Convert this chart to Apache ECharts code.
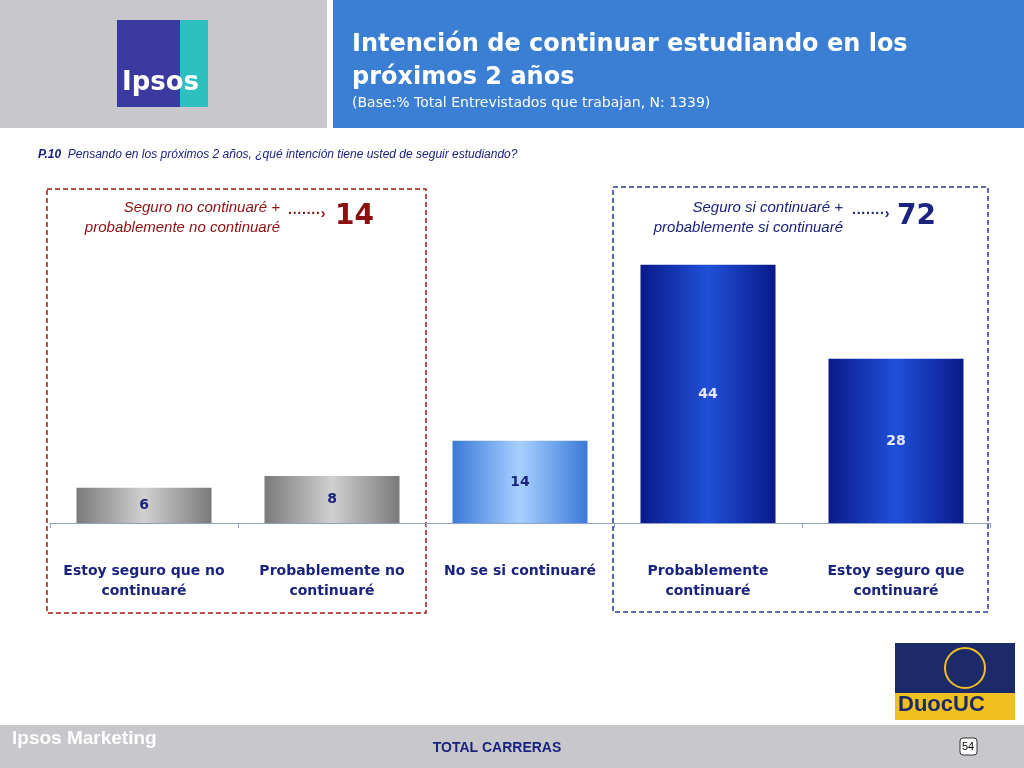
<!DOCTYPE html>
<html><head><meta charset="utf-8">
<script src="https://cdn.jsdelivr.net/npm/echarts@6/dist/echarts.min.js"></script>
<style>html,body{margin:0;padding:0;background:#fff}#c{width:1024px;height:768px}</style>
</head><body><div id="c"></div>
<script>
const categories = ['Estoy seguro que no\ncontinuaré','Probablemente no\ncontinuaré','No se si continuaré','Probablemente\ncontinuaré','Estoy seguro que\ncontinuaré'];
const values = [6, 8, 14, 44, 28];
const groupTotals = [14, 72];
const groupLabels = ['Seguro no continuaré +\nprobablemente no continuaré','Seguro si continuaré +\nprobablemente si continuaré'];

function grad(a,b){return {type:'linear',x:0,y:0,x2:1,y2:0,colorStops:[{offset:0,color:a},{offset:0.5,color:b},{offset:1,color:a}]};}
const colors=[grad('#7a7a7a','#d0d0d0'),grad('#7a7a7a','#d0d0d0'),grad('#3a7ad8','#a8d0ff'),grad('#0a1a8a','#2050d8'),grad('#0a1a8a','#2050d8')];
const labelColors=['#1a237e','#1a237e','#1a237e','#e8e8f4','#e8e8f4'];

const chart = echarts.init(document.getElementById('c'));
const txt='#1a237e';
chart.setOption({
  animation:false,
  grid:{left:50,right:34,top:171,bottom:245},
  xAxis:{type:'category',data:categories,
    axisLine:{lineStyle:{color:'#8ea0c8',width:1}},
    axisTick:{show:true,length:5,lineStyle:{color:'#8ea0c8'}},
    axisLabel:{interval:0,color:txt,fontWeight:'bold',fontSize:14,fontFamily:'Verdana, DejaVu Sans',margin:38,lineHeight:20}},
  yAxis:{type:'value',min:0,max:60,show:false},
  series:[{type:'bar',barWidth:135,
    data:values.map((v,i)=>({value:v,itemStyle:{color:colors[i]},label:{color:labelColors[i]}})),
    label:{show:true,position:'inside',fontWeight:'bold',fontSize:14,fontFamily:'Verdana, DejaVu Sans'}}],
  graphic:[
    {type:'rect',shape:{x:0,y:0,width:327,height:128},style:{fill:'#c8c8cc'}},
    {type:'rect',shape:{x:333,y:0,width:691,height:128},style:{fill:'#3a7fd4'}},
    {type:'rect',shape:{x:117,y:20,width:91,height:87},style:{fill:'#3a3aa0'}},
    {type:'rect',shape:{x:180,y:20,width:28,height:87},style:{fill:'#2ec0c0'}},
    {type:'text',x:122,y:70,style:{text:'Ipsos',fill:'#fff',fontSize:26,fontWeight:'bold',fontFamily:'Verdana, DejaVu Sans'}},
    {type:'text',x:352,y:28,style:{text:'Intención de continuar estudiando en los\npróximos 2 años',fill:'#fff',fontSize:24,fontWeight:'bold',lineHeight:33,fontFamily:'Verdana, DejaVu Sans'}},
    {type:'text',x:352,y:96,style:{text:'(Base:% Total Entrevistados que trabajan, N: 1339)',fill:'#fff',fontSize:14,fontFamily:'Verdana, DejaVu Sans'}},
    {type:'text',x:38,y:149,style:{rich:{b:{fontWeight:'bold',fontStyle:'italic',fill:'#1a237e',fontSize:12,fontFamily:'Arial, Liberation Sans'},n:{fontStyle:'italic',fill:'#1a237e',fontSize:12,fontFamily:'Arial, Liberation Sans'}},text:'{b|P.10}  {n|Pensando en los próximos 2 años, ¿qué intención tiene usted de seguir estudiando?}'}},
    {type:'rect',shape:{x:47,y:189,width:379,height:424},style:{fill:'none',stroke:'#a01818',lineWidth:1.5,lineDash:[5,3]}},
    {type:'rect',shape:{x:613,y:187,width:375,height:425},style:{fill:'none',stroke:'#2a3a9a',lineWidth:1.5,lineDash:[5,3]}},
    {type:'text',x:280,y:198,style:{text:groupLabels[0],fill:'#8b1010',fontSize:15,fontStyle:'italic',align:'right',lineHeight:20,fontFamily:'Arial, Liberation Sans'}},
    {type:'text',x:288,y:207,style:{text:'·······›',fill:'#8b1010',fontSize:14,fontWeight:'bold'}},
    {type:'text',x:335,y:203,style:{text:String(groupTotals[0]),fill:'#8b1010',fontSize:28,fontWeight:'bold',fontFamily:'Verdana, DejaVu Sans'}},
    {type:'text',x:843,y:198,style:{text:groupLabels[1],fill:'#1a237e',fontSize:15,fontStyle:'italic',align:'right',lineHeight:20,fontFamily:'Arial, Liberation Sans'}},
    {type:'text',x:852,y:207,style:{text:'·······›',fill:'#1a237e',fontSize:14,fontWeight:'bold'}},
    {type:'text',x:897,y:203,style:{text:String(groupTotals[1]),fill:'#1a237e',fontSize:28,fontWeight:'bold',fontFamily:'Verdana, DejaVu Sans'}},
    {type:'rect',shape:{x:895,y:643,width:120,height:77},style:{fill:'#1c2a6a'}},
    {type:'rect',shape:{x:895,y:693,width:120,height:27},style:{fill:'#f0c020'}},
    {type:'text',x:898,y:694,style:{text:'DuocUC',fill:'#1c2a6a',fontSize:22,fontWeight:'bold',fontFamily:'Arial, Liberation Sans'}},
    {type:'circle',shape:{cx:965,cy:668,r:20},style:{fill:'none',stroke:'#f0c020',lineWidth:2}},
    {type:'rect',shape:{x:0,y:725,width:1024,height:43},style:{fill:'#c8c8cc'}},
    {type:'text',x:12,y:729,style:{text:'Ipsos Marketing',fill:'#fff',fontSize:19,fontWeight:'bold',fontFamily:'Arial, Liberation Sans'}},
    {type:'text',x:497,y:741,style:{text:'TOTAL CARRERAS',fill:'#1a237e',fontSize:14,fontWeight:'bold',align:'center',fontFamily:'Arial, Liberation Sans'}},
    {type:'rect',shape:{x:960,y:738,width:17,height:17,r:3},style:{fill:'#fff',stroke:'#333'}},
    {type:'text',x:968,y:741,style:{text:'54',fill:'#000',fontSize:11,align:'center',fontFamily:'Arial, Liberation Sans'}}
  ]
});
</script></body></html>
